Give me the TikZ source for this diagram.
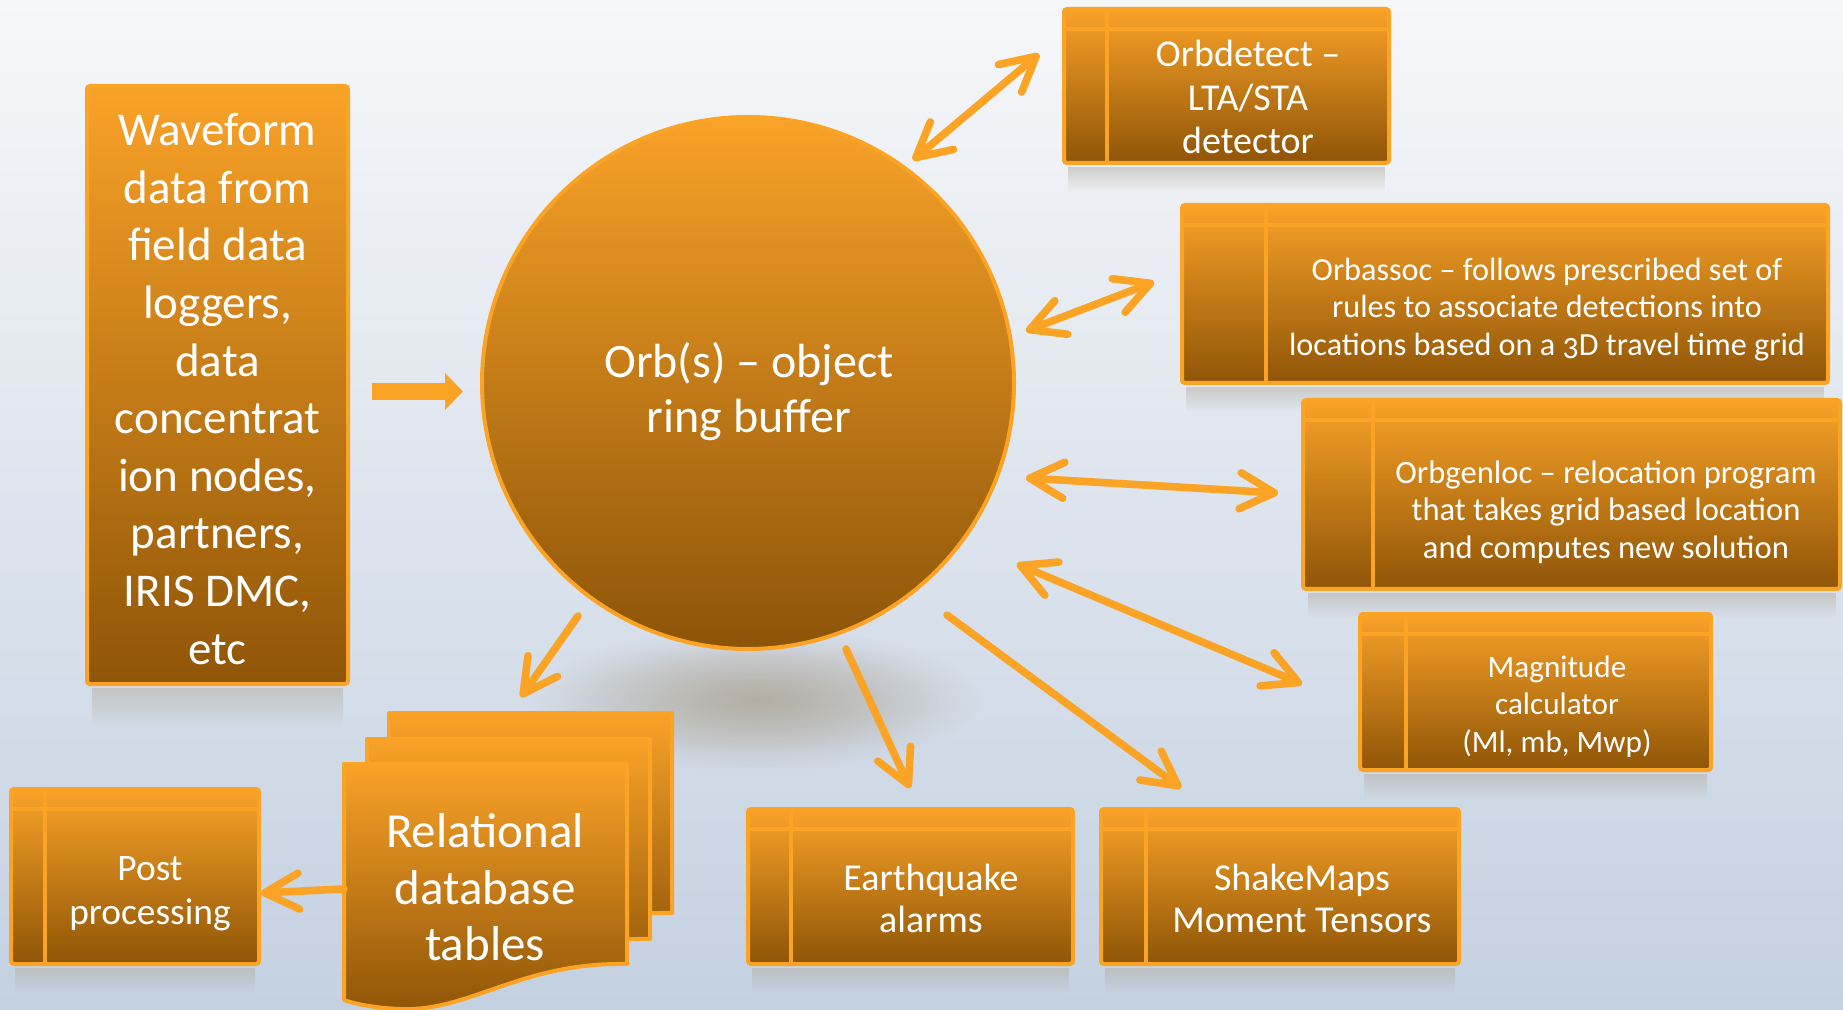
\documentclass[tikz,border=0pt]{standalone}
\usepackage{fontspec}
\setmainfont{Carlito}[Numbers=OldStyle]
\usetikzlibrary{arrows.meta,fadings,calc}
\definecolor{otop}{RGB}{249,162,40}
\definecolor{obot}{RGB}{143,85,7}
\definecolor{orbbot}{RGB}{140,84,8}
\definecolor{oline}{RGB}{250,163,37}
\definecolor{bgtop}{RGB}{246,247,249}
\definecolor{bgbot}{RGB}{196,209,225}
\definecolor{shadowc}{RGB}{178,172,160}
\tikzfading[name=softedge, inner color=transparent!0, outer color=transparent!100]
\tikzset{
  boxfill/.style={top color=otop, bottom color=obot, draw=oline, line width=2pt},
  procbox/.style n args={3}{boxfill, rounded corners=1.5pt, inner sep=0pt,
     minimum width=#1, minimum height=#2,
     path picture={
       \draw[oline, line width=1.6pt]
         ([xshift=#3]path picture bounding box.north west) --
         ([xshift=#3]path picture bounding box.south west);
       \draw[oline, line width=1.6pt]
         ([yshift=-10pt]path picture bounding box.north west) --
         ([yshift=-10pt]path picture bounding box.north east);
     }},
  lbl/.style={text=white, align=center, inner sep=0pt},
  dbl/.style={draw=oline, line width=3.8pt,
     {Straight Barb[length=17pt,width=18pt,round]}-{Straight Barb[length=17pt,width=18pt,round]}},
  sgl/.style={draw=oline, line width=3.8pt, line cap=round,
     -{Straight Barb[length=17pt,width=18pt,round]}},
  blockarr/.style={draw=oline, line width=8.5pt, -{Triangle[length=9pt,width=18pt]}},
  shad/.style={fill=shadowc, opacity=0.5, path fading=south},
}
\begin{document}
\begin{tikzpicture}[x=0.5pt,y=-0.5pt]
\useasboundingbox (0,0) rectangle (1843,1010);
\fill[top color=bgtop, bottom color=bgbot] (0,0) rectangle (1843,1010);

% shadows
\fill[shadowc, opacity=0.9, path fading=softedge] (757,700) ellipse [x radius=112pt, y radius=36pt];
\fill[shadowc, opacity=0.35, path fading=softedge] (757,700) ellipse [x radius=90pt, y radius=26pt];
\fill[shad] (92,688) rectangle (343,728);
\fill[shad] (1068,167) rectangle (1385,192);
\fill[shad] (1186,387) rectangle (1824,412);
\fill[shad] (1308,593) rectangle (1836,618);
\fill[shad] (1364,774) rectangle (1707,799);
\fill[shad] (752,968) rectangle (1069,993);
\fill[shad] (1105,968) rectangle (1455,993);
\fill[shad] (15,968) rectangle (255,993);

% main shapes
\node[circle, draw=oline, line width=2pt, top color=otop, bottom color=orbbot,
      minimum size=266pt, inner sep=0pt] (orb) at (748,383) {};
\node[boxfill, rounded corners=1.5pt, inner sep=0pt,
      minimum width=130.5pt, minimum height=299pt] (wf) at (217.5,385) {};
\node[procbox={162.5pt}{77pt}{21.5pt}] (detect) at (1226.5,86) {};
\node[procbox={323pt}{89pt}{42pt}] (assoc) at (1505,294) {};
\node[procbox={268.5pt}{94.5pt}{35pt}] (genloc) at (1571.5,494.5) {};
\node[procbox={175.5pt}{78pt}{23pt}] (mag) at (1535.5,692) {};
\node[procbox={179pt}{77.5pt}{22.5pt}] (shake) at (1280,886.5) {};
\node[procbox={162.5pt}{77.5pt}{21.5pt}] (eq) at (910.5,886.5) {};
\node[procbox={124pt}{87.5pt}{17pt}] (post) at (135,876.5) {};

% database pages (multi-document)
\filldraw[boxfill, line join=round] (389,713) -- (672,713) -- (672,913)
   .. controls (565,911) and (515,961) .. (445,959)
   .. controls (420,958) and (400,954) .. (389,950) -- cycle;
\filldraw[boxfill, line join=round] (367,739) -- (650,739) -- (650,939)
   .. controls (543,937) and (493,987) .. (423,985)
   .. controls (398,984) and (378,980) .. (367,976) -- cycle;
\filldraw[boxfill, line join=round] (344,764) -- (627,764) -- (627,964)
   .. controls (520,962) and (470,1012) .. (400,1009)
   .. controls (375,1008) and (355,1004) .. (344,1000) -- cycle;

% texts
\node[lbl, font=\fontsize{23.5pt}{28.8pt}\selectfont] (wf-t) at (217.5,389)
  {Waveform\\data from\\field data\\loggers,\\data\\concentrat\\ion nodes,\\partners,\\IRIS DMC,\\etc};
\node[lbl, font=\fontsize{24pt}{27.5pt}\selectfont] (orb-t) at (749,392)
  {Orb(s) – object\\ring buffer};
\node[lbl, font=\fontsize{19pt}{21.75pt}\selectfont] (detect-t) at (1248,97)
  {Orbdetect –\\LTA/STA\\detector};
\node[lbl, font=\fontsize{16.1pt}{18.75pt}\selectfont] (assoc-t) at (1547,309.5)
  {Orbassoc – follows prescribed set of\\rules to associate detections into\\locations based on a 3D travel time grid};
\node[lbl, font=\fontsize{16.3pt}{18.75pt}\selectfont] (genloc-t) at (1606,512)
  {Orbgenloc – relocation program\\that takes grid based location\\and computes new solution};
\node[lbl, font=\fontsize{15.6pt}{18.75pt}\selectfont] (mag-t) at (1557,706.5)
  {Magnitude\\calculator\\(Ml, mb, Mwp)};
\node[lbl, font=\fontsize{19pt}{21pt}\selectfont] (shake-t) at (1302,898)
  {ShakeMaps\\Moment Tensors};
\node[lbl, font=\fontsize{19pt}{21pt}\selectfont] (eq-t) at (931,898)
  {Earthquake\\alarms};
\node[lbl, font=\fontsize{18.7pt}{21.75pt}\selectfont] (post-t) at (150,893.5)
  {Post\\processing};
\node[lbl, font=\fontsize{24.5pt}{28.2pt}\selectfont] (db) at (485,887.5)
  {Relational\\database\\tables};

% connector end points
\coordinate (c1a) at (913,160);  \coordinate (c1b) at (1039,54);
\coordinate (c2a) at (1026,331); \coordinate (c2b) at (1154,282);
\coordinate (c3a) at (1026,478); \coordinate (c3b) at (1278,493);
\coordinate (c4a) at (1017,564); \coordinate (c4b) at (1302,684);
\coordinate (c5a) at (947,615);  \coordinate (c5b) at (1181,788);
\coordinate (c6a) at (846,649);  \coordinate (c6b) at (910,788);
\coordinate (c7a) at (578,616);  \coordinate (c7b) at (521,697);
\coordinate (c8a) at (344,889);  \coordinate (c8b) at (261,893);
\coordinate (c9a) at (372,391.5); \coordinate (c9b) at (463,391.5);

% connectors
\draw[dbl] (c1a) -- (c1b);
\draw[dbl] (c2a) -- (c2b);
\draw[dbl] (c3a) -- (c3b);
\draw[dbl] (c4a) -- (c4b);
\draw[sgl] (c5a) -- (c5b);
\draw[sgl] (c6a) -- (c6b);
\draw[sgl] (c7a) -- (c7b);
\draw[sgl] (c8a) -- (c8b);
\draw[blockarr] (c9a) -- (c9b);
\end{tikzpicture}
\end{document}
